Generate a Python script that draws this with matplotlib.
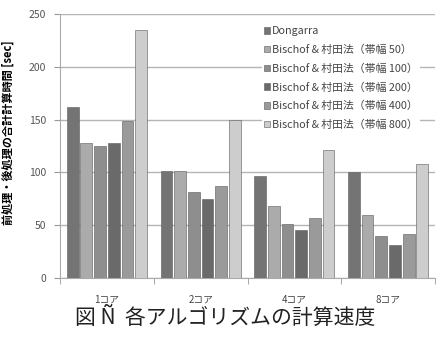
import numpy as np
import matplotlib
matplotlib.use("Agg")
import matplotlib.pyplot as plt

plt.rcParams['font.family'] = ['Noto Sans CJK JP', 'DejaVu Sans']

# data
categories = ["1コア", "2コア", "4コア", "8コア"]
series_names = [
    "Dongarra",
    "Bischof & 村田法（帯幅 50）",
    "Bischof & 村田法（帯幅 100）",
    "Bischof & 村田法（帯幅 200）",
    "Bischof & 村田法（帯幅 400）",
    "Bischof & 村田法（帯幅 800）",
]
dongarra = [162, 101.5, 97, 100]
bw50 = [128, 101, 68, 60]
bw100 = [125, 81, 51, 39.5]
bw200 = [128, 75, 45.5, 31]
bw400 = [149, 87, 57, 42]
bw800 = [235, 150, 121, 108]
series_values = [dongarra, bw50, bw100, bw200, bw400, bw800]
colors = ["#747474", "#ababab", "#8e8e8e", "#6a6a6a", "#9a9a9a", "#cdcdcd"]

fig = plt.figure(figsize=(4.46, 3.40), dpi=100)
ax = fig.add_axes([60 / 446, 1 - 278 / 340, 375 / 446, 264 / 340])

x = np.arange(len(categories))
pitch = 0.146
width = 0.125
for i, (name, vals) in enumerate(zip(series_names, series_values)):
    ax.bar(x + (i - 2.5) * pitch, vals, width, color=colors[i],
           edgecolor="#5a5a5a", linewidth=0.4, label=name, zorder=3)

ax.set_xlim(-0.5, len(categories) - 0.5)
ax.set_ylim(0, 250)
ax.set_yticks(range(0, 251, 50))
ax.yaxis.grid(True, color="#b5b5b5", linewidth=1.0, zorder=0)
ax.set_axisbelow(True)

ax.set_xticks(x)
ax.set_xticklabels(categories, fontsize=7, color="#444444")
ax.set_xticks(np.arange(-0.5, len(categories), 1.0), minor=True)
ax.tick_params(axis="x", which="major", length=0, pad=12)
ax.tick_params(axis="x", which="minor", length=4, color="#999999")
ax.tick_params(axis="y", length=4, color="#999999", labelsize=7.5,
               labelcolor="#555555", pad=6)

for side in ["top", "right"]:
    ax.spines[side].set_visible(False)
for side in ["left", "bottom"]:
    ax.spines[side].set_color("#aaaaaa")

ax.set_ylabel("前処理・後処理の合計計算時間 [sec]", fontsize=8,
              fontweight="bold")
ax.yaxis.set_label_coords(-45 / 375, (278 - 133) / 264)

leg = ax.legend(loc="upper left", bbox_to_anchor=((262 - 60) / 375, (278 - 24) / 264),
                fontsize=7.8, frameon=True, framealpha=1, edgecolor="none",
                handlelength=0.55, handleheight=0.55, handletextpad=0.15,
                labelspacing=0.78, borderpad=0.2, borderaxespad=0)
for t in leg.get_texts():
    t.set_color("#444444")

fig.text(0.505, 1 - 318 / 340, "図 Ñ  各アルゴリズムの計算速度", ha="center",
         va="center", fontsize=15, color="#222222")

fig.savefig("out.png", dpi=100)
